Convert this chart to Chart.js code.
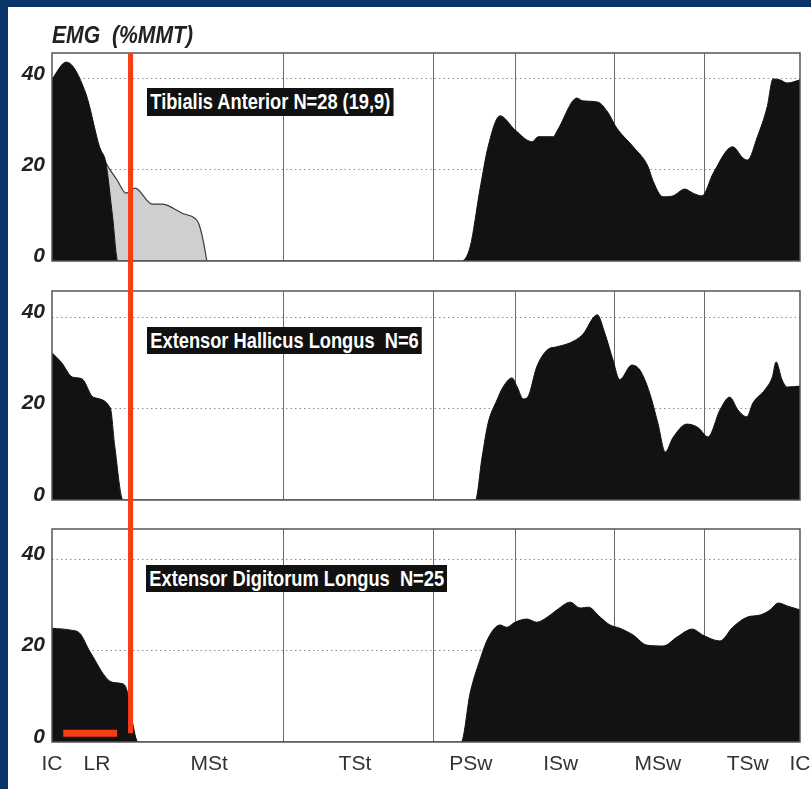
<!DOCTYPE html>
<html><head><meta charset="utf-8">
<script src="https://cdn.jsdelivr.net/npm/chart.js@4/dist/chart.umd.min.js"></script>
<style>
html,body{margin:0;padding:0;background:#fff;}
#page{position:relative;width:811px;height:789px;overflow:hidden;background:#fff;}
.navyTop{position:absolute;left:0;top:0;width:811px;height:7px;background:#0b3568;}
.navyLeft{position:absolute;left:0;top:0;width:8px;height:789px;background:#0b3568;}
canvas{position:absolute;left:0;}
.title{position:absolute;left:52px;top:24px;font:italic bold 23px "Liberation Sans",Arial,sans-serif;color:#222;white-space:pre;line-height:23px;transform:scaleX(0.92);transform-origin:0 0;}
.tag{position:absolute;background:#111;color:#fff;font:bold 22px "Liberation Sans",Arial,sans-serif;white-space:pre;padding:0 4px;transform:scaleX(0.83);transform-origin:0 0;}
</style></head>
<body>
<div id="page">
  <div class="navyTop"></div><div class="navyLeft"></div>
  <canvas id="c1" width="811" height="276" style="top:0px"></canvas>
  <canvas id="c2" width="811" height="239" style="top:276px"></canvas>
  <canvas id="c3" width="811" height="274" style="top:515px"></canvas>
  <div class="title">EMG  (%MMT)</div>
  <div class="tag" style="left:147px;top:88px;height:28px;line-height:28px;">Tibialis Anterior N=28 (19,9)</div>
  <div class="tag" style="left:147px;top:327px;height:27px;line-height:27px;">Extensor Hallicus Longus  N=6</div>
  <div class="tag" style="left:146px;top:565px;height:27px;line-height:27px;">Extensor Digitorum Longus  N=25</div>
</div>
<script>
// ---- data (x = % of gait cycle, y = EMG %MMT) ----
const phaseLabels = ['IC','LR','MSt','TSt','PSw','ISw','MSw','TSw','IC'];
const phaseLabelPos = [0, 6, 21, 40.5, 56, 68, 81, 93, 100];
const phaseBoundaries = [31, 51, 62, 75.2, 87.2];
const yTicks = [0, 20, 40];

const taX = [0, 1.9, 4.5, 6.4, 7.2, 8.1, 8.8, 54.7, 55.9, 57.2, 58.3, 59.9, 61.9, 64.2, 65.0, 67.0, 67.6, 70.2, 70.9, 73.0, 74.3, 75.5, 77.7, 79.7, 80.3, 81.7, 83.0, 84.6, 85.7, 86.9, 88.4, 91.0, 92.4, 93.0, 94.3, 95.6, 96.4, 97.3, 98.3, 100];
const taY = [40, 43.7, 36.9, 24.8, 21.6, 9.7, 0, 0, 3.1, 15.6, 25.1, 31.9, 28.8, 26.2, 27.3, 27.3, 28.8, 35.8, 35.2, 34.9, 32.7, 29.2, 25.1, 20.7, 17.8, 14.1, 14.3, 15.8, 14.9, 14.3, 19.3, 25.1, 22.6, 22.2, 27.3, 33.8, 40.0, 39.8, 39.1, 39.8];

const taGrayX = [6.4, 7.2, 8.7, 9.9, 11.1, 13.4, 14.8, 16.2, 17.4, 19.1, 19.6, 20.2, 20.7];
const taGrayY = [24.8, 21.6, 17.8, 14.9, 16.0, 12.5, 12.5, 11.6, 10.5, 9.4, 8.3, 4.6, 0];

const ehlX = [0, 1.3, 2.7, 4.0, 5.5, 7.8, 8.4, 9.5, 56.6, 57.5, 58.3, 59.5, 60.3, 61.5, 62.2, 63.0, 63.6, 64.8, 66.2, 67.5, 69.3, 70.9, 72.9, 73.9, 75.0, 75.9, 77.5, 78.6, 79.9, 81.0, 82.0, 83.0, 84.9, 86.4, 87.7, 89.3, 90.6, 91.7, 92.9, 93.7, 95.3, 96.3, 96.8, 97.6, 98.3, 100];
const ehlY = [32.2, 30.0, 26.9, 26.5, 22.5, 20.1, 11.6, 0, 0, 9.4, 16.8, 21.9, 24.7, 26.7, 24.7, 22.1, 22.5, 29.1, 32.8, 33.5, 34.4, 36.1, 40.5, 36.5, 30.6, 26.3, 29.5, 28.4, 23.4, 16.8, 10.5, 13.6, 16.6, 15.8, 13.8, 19.7, 22.5, 19.7, 18.2, 21.2, 24.1, 26.9, 30.2, 26.3, 24.7, 24.9];

const edlX = [0, 2.4, 3.7, 5.1, 8.0, 9.5, 10.0, 10.7, 11.5, 54.7, 55.9, 57.2, 58.3, 59.9, 60.8, 61.9, 63.5, 64.8, 66.2, 67.5, 69.3, 70.6, 71.7, 73.3, 74.6, 75.9, 77.7, 79.5, 81.7, 83.6, 85.6, 87.0, 89.3, 91.0, 92.9, 94.7, 96.0, 97.1, 98.4, 100];
const edlY = [24.9, 24.5, 23.8, 19.7, 13.1, 12.7, 11.4, 4.8, 0, 0, 10.7, 17.9, 22.7, 25.6, 25.1, 26.2, 26.9, 26.2, 27.3, 28.9, 30.6, 29.3, 29.5, 27.3, 25.6, 24.9, 23.4, 21.2, 21.0, 23.0, 24.7, 23.4, 22.1, 25.1, 27.3, 27.8, 28.9, 30.4, 29.7, 28.9];

const redLineX = 10.5;
const redBarX = [1.5, 8.7];
const redBarY = 1.9;

// ---- helpers ----
const FONT = '"Liberation Sans", Arial, sans-serif';
const pts = (xs, ys) => xs.map((x, i) => ({x: x, y: ys[i]}));

const frame = {
  id: 'frame',
  afterDatasetsDraw(chart) {
    const a = chart.chartArea, ctx = chart.ctx;
    ctx.save();
    ctx.strokeStyle = '#555';
    ctx.lineWidth = 1.5;
    ctx.strokeRect(a.left, a.top, a.right - a.left, a.bottom - a.top);
    ctx.restore();
  }
};
const redMarker = {
  id: 'redMarker',
  afterDraw(chart, args, o) {
    const ctx = chart.ctx, xs = chart.scales.x, ys = chart.scales.y;
    const px = xs.getPixelForValue(redLineX);
    const top = o.fromArea ? chart.chartArea.top : 0;
    const bottom = o.toBar ? ys.getPixelForValue(redBarY) : chart.height;
    ctx.save();
    ctx.strokeStyle = '#f83c14';
    ctx.lineWidth = 5;
    ctx.beginPath(); ctx.moveTo(px, top); ctx.lineTo(px, bottom); ctx.stroke();
    if (o.toBar) {
      ctx.lineWidth = 7;
      ctx.beginPath();
      ctx.moveTo(xs.getPixelForValue(redBarX[0]), bottom);
      ctx.lineTo(xs.getPixelForValue(redBarX[1]), bottom);
      ctx.stroke();
    }
    ctx.restore();
  }
};

function blackSet(xs, ys) {
  return {data: pts(xs, ys), fill: 'origin', backgroundColor: '#121212', borderColor: '#121212',
    borderWidth: 1, pointRadius: 0, cubicInterpolationMode: 'monotone', order: 0};
}
function graySet(xs, ys) {
  return {data: pts(xs, ys), fill: 'origin', backgroundColor: '#cfcfcf', borderColor: '#3a3a3a',
    borderWidth: 1.2, pointRadius: 0, cubicInterpolationMode: 'monotone', order: 1};
}

function makePanel(id, datasets, o) {
  const scales = {
    x: {type: 'linear', min: 0, max: 100, position: 'bottom',
      afterFit: s => { s.height = 0; s.paddingLeft = 0; s.paddingRight = 0; },
      afterBuildTicks: s => { s.ticks = phaseBoundaries.map(v => ({value: v})); },
      ticks: {display: false},
      grid: {color: '#6a6a6a', lineWidth: 1, drawTicks: false},
      border: {display: false}},
    y: {type: 'linear', min: 0, max: o.yMax,
      afterFit: s => { s.width = 52; s.paddingTop = 0; s.paddingBottom = 0; },
      afterBuildTicks: s => { s.ticks = yTicks.map(v => ({value: v})); },
      ticks: {font: {family: FONT, size: 21, weight: 'bold', style: 'italic'}, color: '#222', padding: 7, labelOffset: -5},
      grid: {color: c => (c.tick && c.tick.value === 0) ? 'rgba(0,0,0,0)' : '#8c8c8c', drawTicks: false, lineWidth: 1},
      border: {display: false, dash: [1.5, 3]}}
  };
  if (o.showLabels) {
    scales.xl = {type: 'linear', min: 0, max: 100, position: 'bottom',
      afterFit: s => { s.height = 47; s.paddingLeft = 0; s.paddingRight = 0; },
      afterBuildTicks: s => { s.ticks = phaseLabelPos.map(v => ({value: v})); },
      ticks: {callback: (v, i) => phaseLabels[i], autoSkip: false, maxRotation: 0,
        font: {family: FONT, size: 21}, color: '#333', padding: 10},
      grid: {display: false, drawTicks: false},
      border: {display: false}};
  }
  return new Chart(document.getElementById(id), {
    type: 'line',
    data: {datasets: datasets},
    options: {
      responsive: false, animation: false,
      layout: {padding: {top: o.padTop, bottom: o.padBottom, left: 0, right: 11}},
      plugins: {legend: {display: false}, tooltip: {enabled: false},
        redMarker: {fromArea: o.fromArea, toBar: o.toBar}},
      scales: scales
    },
    plugins: [frame, redMarker]
  });
}

makePanel('c1', [blackSet(taX, taY), graySet(taGrayX, taGrayY)], {yMax: 45.7, padTop: 53, padBottom: 15, fromArea: true, toBar: false});
makePanel('c2', [blackSet(ehlX, ehlY)], {yMax: 45.7, padTop: 15, padBottom: 15, fromArea: false, toBar: false});
makePanel('c3', [blackSet(edlX, edlY)], {yMax: 46.6, padTop: 14, padBottom: 0, fromArea: false, toBar: true, showLabels: true});
</script>
</body></html>
